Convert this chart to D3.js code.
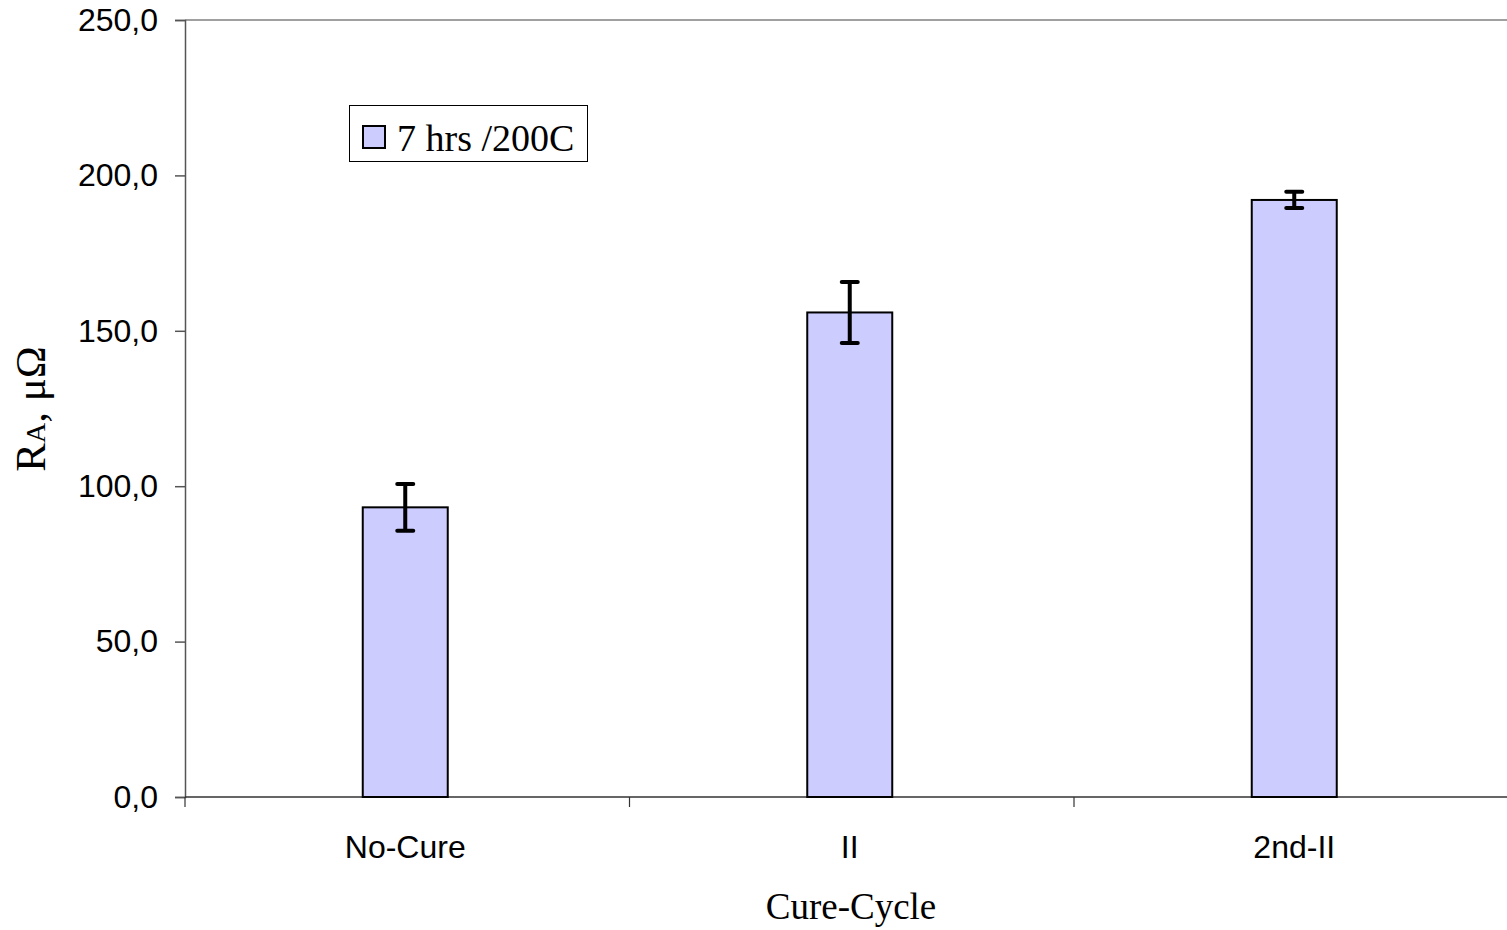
<!DOCTYPE html>
<html><head><meta charset="utf-8">
<script src="https://cdn.jsdelivr.net/npm/d3@7"></script>
<style>body{margin:0;background:#fff;} svg{display:block;}</style>
</head><body>
<svg id="c" width="1507" height="930"></svg>
<script>
const categories = ["No-Cure", "II", "2nd-II"];
const values = [93.2, 155.9, 192.1];
const errors = [7.5, 9.8, 2.6];
const yTicks = [0, 50, 100, 150, 200, 250];
const seriesName = "7 hrs /200C";

(function(){
const svg = d3.select("#c");
const pLeft = 185, pTop = 20, pBottom = 797, bandW = 444.5;
const x = d3.scaleBand().domain(categories).range([pLeft, pLeft + bandW * categories.length]).padding(0);
const y = d3.scaleLinear().domain([0, 250]).range([pBottom, pTop]);
const fmt = v => d3.format(".1f")(v).replace(".", ",");
const sans = "Liberation Sans, Arial, sans-serif";
const serif = "Liberation Serif, Times New Roman, serif";

// plot area border (top)
svg.append("line").attr("x1", pLeft).attr("x2", 1507).attr("y1", y(250)).attr("y2", y(250))
  .attr("stroke", "#808080").attr("stroke-width", 1.5);

// y axis
const ya = svg.append("g").attr("transform", `translate(${pLeft},0)`)
  .call(d3.axisLeft(y).tickValues(yTicks).tickFormat(fmt).tickSize(10).tickPadding(17));
ya.select(".domain").attr("stroke", "#555").attr("stroke-width", 1.5);
ya.selectAll(".tick line").attr("stroke", "#555").attr("stroke-width", 1.5);
ya.selectAll("text").attr("font-family", sans).attr("font-size", 32).attr("fill", "#000");

// x axis
const xa = svg.append("g").attr("transform", `translate(0,${pBottom})`)
  .call(d3.axisBottom(x).tickSize(0).tickPadding(38));
xa.select(".domain").remove();
xa.selectAll("text").attr("font-family", sans).attr("font-size", 32).attr("fill", "#000")
  .attr("dx", -2);
svg.append("line").attr("x1", pLeft).attr("x2", 1507).attr("y1", pBottom).attr("y2", pBottom)
  .attr("stroke", "#333").attr("stroke-width", 1.5);
const bounds = categories.map(c => x(c)).concat([x(categories[categories.length-1]) + x.bandwidth()]);
svg.selectAll(".xt").data(bounds).enter().append("line")
  .attr("x1", d => d).attr("x2", d => d).attr("y1", pBottom).attr("y2", pBottom + 10)
  .attr("stroke", "#333").attr("stroke-width", 1.2);

// bars
const bw = 85, shift = -2;
const cx = d => x(d) + x.bandwidth()/2 + shift;
svg.selectAll(".bar").data(categories).enter().append("rect")
  .attr("x", d => cx(d) - bw/2)
  .attr("y", (d,i) => y(values[i]))
  .attr("width", bw)
  .attr("height", (d,i) => pBottom - y(values[i]))
  .attr("fill", "#CCCCFF").attr("stroke", "#000").attr("stroke-width", 2);

// error bars
const eb = svg.selectAll(".eb").data(categories).enter().append("g");
eb.append("line")
  .attr("x1", d => cx(d)).attr("x2", d => cx(d))
  .attr("y1", (d,i) => y(values[i] + errors[i])).attr("y2", (d,i) => y(values[i] - errors[i]))
  .attr("stroke", "#000").attr("stroke-width", 4);
[1, -1].forEach(s => {
  eb.append("line")
    .attr("x1", d => cx(d) - 8).attr("x2", d => cx(d) + 8)
    .attr("y1", (d,i) => y(values[i] + s*errors[i])).attr("y2", (d,i) => y(values[i] + s*errors[i]))
    .attr("stroke", "#000").attr("stroke-width", 4).attr("stroke-linecap", "round");
});

// legend
const lg = svg.append("g");
lg.append("rect").attr("x", 349.5).attr("y", 105.5).attr("width", 238).attr("height", 56)
  .attr("fill", "#fff").attr("stroke", "#000").attr("stroke-width", 1);
lg.append("rect").attr("x", 363).attr("y", 126).attr("width", 22).attr("height", 22)
  .attr("fill", "#CCCCFF").attr("stroke", "#000").attr("stroke-width", 2);
lg.append("text").attr("x", 397).attr("y", 151).text(seriesName)
  .attr("font-family", serif).attr("font-size", 38).attr("fill", "#000");

// axis titles
svg.append("text").attr("x", 851).attr("y", 919)
  .attr("text-anchor", "middle").text("Cure-Cycle")
  .attr("font-family", serif).attr("font-size", 37).attr("fill", "#000");
const yt = svg.append("text").attr("transform", "translate(45,409) rotate(-90)")
  .attr("text-anchor", "middle")
  .attr("font-family", serif).attr("font-size", 43).attr("fill", "#000");
yt.append("tspan").text("R");
yt.append("tspan").attr("font-size", 28).text("A");
yt.append("tspan").text(", μΩ");
})();
</script>
</body></html>
